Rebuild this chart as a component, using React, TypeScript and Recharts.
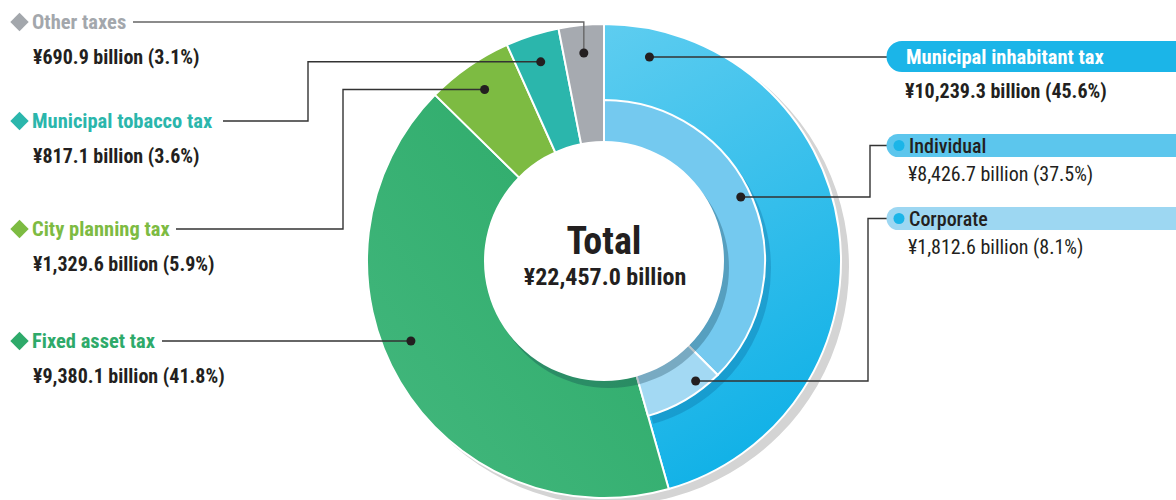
import { PieChart, Pie, Cell } from 'recharts'

const categories = ['Municipal inhabitant tax', 'Fixed asset tax', 'City planning tax', 'Municipal tobacco tax', 'Other taxes']
const amounts = [10239.3, 9380.1, 1329.6, 817.1, 690.9]
const shares = [45.6, 41.8, 5.9, 3.6, 3.1]

const subCategories = ['Individual', 'Corporate']
const subAmounts = [8426.7, 1812.6]
const subShares = [37.5, 8.1]

const total = 22457.0

const fills = ['url(#gInhabitant)', 'url(#gFixed)', '#7dbb42', '#2bb6ac', '#a6aab0']
const titleColors = ['#1bb5e8', '#2eaa6a', '#7dbb42', '#2bb6ac', '#a3a7ac']
const subFills = ['#74c9ef', '#a3d9f3']
const badgeColors = ['#5cc6ed', '#9dd7f2']

const CX = 604
const CY = 261
const R_OUT = 237
const R_HOLE = 120
const R_SUB = 161

const FONT = "'Liberation Sans Narrow', 'Roboto Condensed', 'DejaVu Sans Condensed', sans-serif"

const fmt = (v: number, s: number) =>
  `¥${v.toLocaleString('en-US', { minimumFractionDigits: 1, maximumFractionDigits: 1 })} billion (${s.toFixed(1)}%)`

// angle measured clockwise from 12 o'clock
const polar = (deg: number, r: number) => {
  const a = (deg * Math.PI) / 180
  return [CX + r * Math.sin(a), CY - r * Math.cos(a)]
}

const midAngles = (() => {
  let acc = 0
  return amounts.map((v) => {
    const mid = ((acc + v / 2) / total) * 360
    acc += v
    return mid
  })
})()

// point on a circle at a given height (right or left side)
const atHeight = (y: number, r: number, side: 1 | -1) => [CX + side * Math.sqrt(r * r - (y - CY) * (y - CY)), y]

// left-hand labels: category index, title row y, where the leader leaves the text, elbow x
const leftRows = [
  { i: 4, y: 22, from: 133, elbow: null as number | null, mid: true },
  { i: 3, y: 121, from: 223, elbow: 308, mid: true },
  { i: 2, y: 229, from: 176, elbow: 343, mid: true },
  { i: 1, y: 341, from: 162, elbow: null, mid: false },
]

export default function App() {
  const outerData = categories.map((name, i) => ({ name, value: amounts[i] }))
  const subData = [
    ...subCategories.map((name, i) => ({ name, value: subAmounts[i] })),
    { name: 'rest', value: total - subAmounts.reduce((a, b) => a + b, 0) },
  ]
  const one = [{ name: 'disc', value: 1 }]

  const inhDot = atHeight(57, 209, 1)
  const indDot = atHeight(197, 151, 1)
  const corDot = atHeight(381, 151, 1)

  return (
    <div style={{ position: 'fixed', left: 0, top: 0, width: 1176, height: 500, background: '#fff', fontFamily: FONT }}>
      <PieChart width={1176} height={500} margin={{ top: 0, right: 0, bottom: 0, left: 0 }}>
        <defs>
          <linearGradient id="gInhabitant" x1="0" y1="0" x2="0.3" y2="1">
            <stop offset="0%" stopColor="#5ecdf0" />
            <stop offset="100%" stopColor="#13b2e7" />
          </linearGradient>
          <linearGradient id="gFixed" x1="1" y1="0" x2="0" y2="1">
            <stop offset="0%" stopColor="#2aa967" />
            <stop offset="100%" stopColor="#44b87e" />
          </linearGradient>
        </defs>
        {/* drop shadow of the whole ring */}
        <Pie data={one} dataKey="value" cx={CX + 7} cy={CY + 6} innerRadius={0} outerRadius={R_OUT + 1}
          startAngle={90} endAngle={-270} fill="#d4d4d4" stroke="none" isAnimationActive={false} />
        <Pie data={outerData} dataKey="value" cx={CX} cy={CY} innerRadius={100} outerRadius={R_OUT}
          startAngle={90} endAngle={-270} stroke="#fff" strokeWidth={2} isAnimationActive={false}>
          {outerData.map((d, i) => (
            <Cell key={d.name} fill={fills[i]} />
          ))}
        </Pie>
        {/* shadow of the breakdown ring */}
        <Pie data={subData} dataKey="value" cx={CX + 5} cy={CY + 7} innerRadius={100} outerRadius={R_SUB + 1}
          startAngle={90} endAngle={-270} stroke="none" isAnimationActive={false}>
          {subData.map((d, i) => (
            <Cell key={d.name} fill={i < 2 ? 'rgba(0,70,120,0.22)' : 'transparent'} />
          ))}
        </Pie>
        <Pie data={subData} dataKey="value" cx={CX} cy={CY} innerRadius={100} outerRadius={R_SUB}
          startAngle={90} endAngle={-270} isAnimationActive={false}>
          {subData.map((d, i) => (
            <Cell key={d.name} fill={i < 2 ? subFills[i] : 'transparent'} stroke={i < 2 ? '#fff' : 'none'} strokeWidth={2} />
          ))}
        </Pie>
        {/* centre disc and its shadow */}
        <Pie data={one} dataKey="value" cx={CX + 5} cy={CY + 7} innerRadius={0} outerRadius={R_HOLE}
          startAngle={90} endAngle={-270} fill="rgba(10,50,70,0.28)" stroke="none" isAnimationActive={false} />
        <Pie data={one} dataKey="value" cx={CX} cy={CY} innerRadius={0} outerRadius={R_HOLE}
          startAngle={90} endAngle={-270} fill="#fff" stroke="none" isAnimationActive={false} />
      </PieChart>

      <svg width={1176} height={500} style={{ position: 'absolute', left: 0, top: 0, pointerEvents: 'none' }}>
        <text x={CX} y={241} textAnchor="middle" dominantBaseline="central" fontSize={38} fontWeight={700} fill="#231f20">
          Total
        </text>
        <text x={CX + 1} y={277} textAnchor="middle" dominantBaseline="central" fontSize={24} fontWeight={700} fill="#231f20">
          {fmt(total, 100).replace(' (100.0%)', '')}
        </text>

        {leftRows.map((row) => {
          const dot = row.mid ? polar(midAngles[row.i], 209) : atHeight(row.y, 209, -1)
          const d = row.elbow === null
            ? row.mid
              ? `M${row.from},${row.y} H${dot[0]} V${dot[1]}`
              : `M${row.from},${row.y} H${dot[0]}`
            : `M${row.from},${row.y} H${row.elbow} V${dot[1]} H${dot[0]}`
          const c = titleColors[row.i]
          return (
            <g key={row.i}>
              <path d={d} fill="none" stroke={row.i === 4 ? '#666' : '#333'} strokeWidth={1.4} />
              <circle cx={dot[0]} cy={dot[1]} r={4.5} fill="#231f20" />
              <rect x={13} y={row.y - 6.5} width={13} height={13} fill={c} transform={`rotate(45 19.5 ${row.y})`} />
              <text x={32} y={row.y} dominantBaseline="central" fontSize={20.5} fontWeight={700} fill={c}>
                {categories[row.i]}
              </text>
              <text x={33} y={row.y + 35} dominantBaseline="central" fontSize={20} fontWeight={700} fill="#231f20">
                {fmt(amounts[row.i], shares[row.i])}
              </text>
            </g>
          )
        })}

        {/* municipal inhabitant tax */}
        <path d={`M${inhDot[0]},57 H888`} stroke="#333" strokeWidth={1.4} fill="none" />
        <circle cx={inhDot[0]} cy={inhDot[1]} r={4.5} fill="#231f20" />
        <path d="M1176,41 H902 A15.5,15.5 0 0 0 902,72 H1176 Z" fill={titleColors[0]} />
        <text x={906} y={57} dominantBaseline="central" fontSize={20.5} fontWeight={700} fill="#fff">
          {categories[0]}
        </text>
        <text x={905} y={91} dominantBaseline="central" fontSize={20} fontWeight={700} fill="#231f20">
          {fmt(amounts[0], shares[0])}
        </text>

        {/* breakdown */}
        {[
          { dot: indDot, elbow: 870, y: 145.5 },
          { dot: corDot, elbow: 868, y: 218.5 },
        ].map((b, i) => (
          <g key={i}>
            <path d={`M${b.dot[0]},${b.dot[1]} H${b.elbow} V${b.y} H887`} stroke="#333" strokeWidth={1.4} fill="none" />
            <circle cx={b.dot[0]} cy={b.dot[1]} r={4.5} fill="#231f20" />
            <path d={`M1176,${b.y - 11.5} H898 A11.5,11.5 0 0 0 898,${b.y + 11.5} H1176 Z`} fill={badgeColors[i]} />
            <circle cx={899} cy={b.y} r={5.5} fill="#1bb5e8" />
            <text x={909} y={b.y} dominantBaseline="central" fontSize={20} fontWeight={500} fill="#231f20">
              {subCategories[i]}
            </text>
            <text x={908} y={b.y + 28.5} dominantBaseline="central" fontSize={20} fill="#231f20">
              {fmt(subAmounts[i], subShares[i])}
            </text>
          </g>
        ))}
      </svg>
    </div>
  )
}
